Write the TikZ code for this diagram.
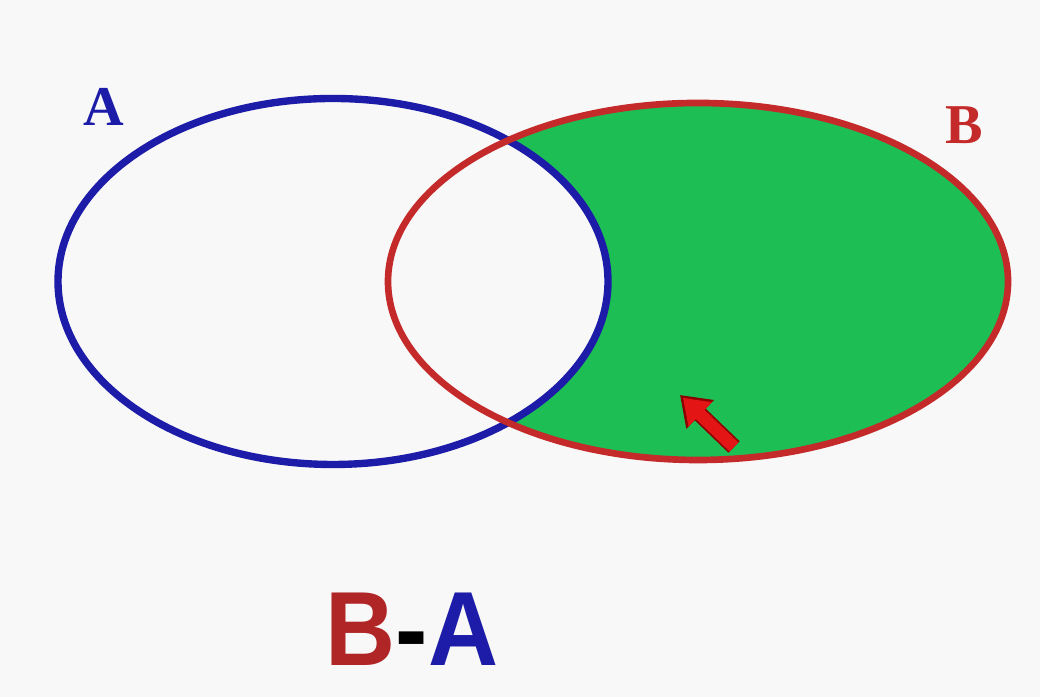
\documentclass[tikz,border=0pt]{standalone}
\usepackage{fontspec}
\setmainfont{Liberation Serif}
\setsansfont{Liberation Sans}
\usetikzlibrary{arrows.meta,calc}
\definecolor{bggrey}{HTML}{F8F8F8}
\definecolor{setblue}{HTML}{1C1CA8}
\definecolor{setred}{HTML}{C42A2A}
\definecolor{setgreen}{HTML}{1DBF55}
\definecolor{arrowred}{HTML}{E31515}
\tikzset{
  setlabel/.style={font=\fontsize{16}{16}\selectfont\bfseries},
  difflabel/.style={font=\fontsize{30}{30}\selectfont\sffamily\bfseries, xscale=0.92}
}
\begin{document}
\begin{tikzpicture}
            % fond gris clair (fixe aussi les marges)
            \fill[bggrey] (0,0) rectangle (10.4,6.97);

            % centres des deux ensembles
            \coordinate (cA) at (3.33, 4.155);
            \coordinate (cB) at (6.98, 4.155);

            % B - A en vert : on remplit B, puis on efface A
            \fill[setgreen] (cB) ellipse (3.10cm and 1.785cm);
            \fill[bggrey] (cA) ellipse (2.75cm and 1.83cm);

            % contours des ensembles
            \draw[setblue, line width=2.1pt] (cA) ellipse (2.75cm and 1.83cm);
            \draw[setred, line width=1.9pt] (cB) ellipse (3.10cm and 1.785cm);

            % noms des ensembles
            \node[setlabel, text=setblue] (labA) at (1.04, 5.90) {A};
            \node[setlabel, text=setred] (labB) at (9.64, 5.72) {B};

            % petite flèche rouge dans la zone verte
            \coordinate (t0) at (7.34, 2.50);
            \coordinate (t1) at (6.80, 3.02);
            \draw[-{Triangle[length=2.8mm, width=3.8mm]}, line width=1.6mm, red!55!black] (t0) -- (t1);
            \draw[-{Triangle[length=2.4mm, width=3.2mm]}, line width=1.25mm, arrowred] (t0) -- ($(t1)!0.4mm!(t0)$);

            % légende
            \node[difflabel] (diff) at (4.12, 0.68) {\textcolor{setred!90!black}{B}-\textcolor{setblue}{A}};
        \end{tikzpicture}
\end{document}
